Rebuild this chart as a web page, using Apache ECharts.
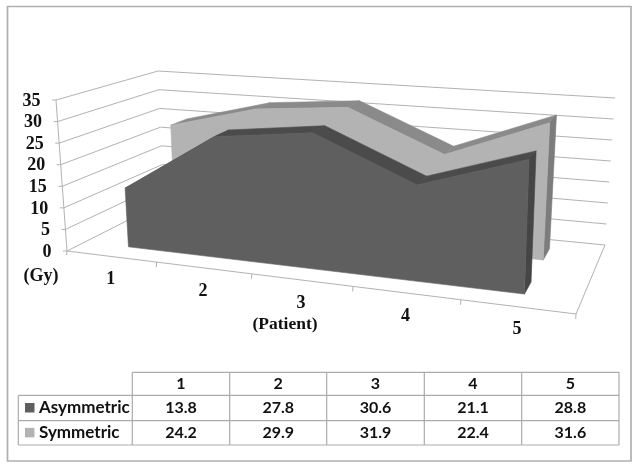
<!DOCTYPE html>
<html><head><meta charset="utf-8">
<style>html,body{margin:0;padding:0;background:#fff}#c{width:641px;height:472px}</style>
<script src="https://cdn.jsdelivr.net/npm/echarts@6/dist/echarts.min.js"></script></head>
<body><div id="c"></div>
<script>
const categories = ['1','2','3','4','5'];
const asymmetric = [13.8,27.8,30.6,21.1,28.8];
const symmetric = [24.2,29.9,31.9,22.4,31.6];
const yTicks = [0,5,10,15,20,25,30,35];
const seriesNames = ['Asymmetric','Symmetric'];

const chart = echarts.init(document.getElementById('c'), null, {renderer:'canvas'});
const GRID = {left:0, top:0, width:100, height:100};
const SERIF = '"Liberation Serif"';
const LINE = '#b2b2b2';
const corners = {
  fl:[[67,251],[56,100]], bl:[[164,202],[158,71]],
  br:[[605,245],[615,98]], fr:[[576,314],[583,144]]
};
function persp(t){ const a=1.17; return t/(t+a*(1-t)); }
function mix(a,b,t){ return [a[0]+(b[0]-a[0])*t, a[1]+(b[1]-a[1])*t]; }
// project a point of the flat hidden grid into the drawn 3D box at depth z
function project(pt, z){
  const u = persp((pt[0]-GRID.left)/GRID.width);
  const v = 1-(pt[1]-GRID.top)/GRID.height;
  const f = mix(mix(corners.fl[0],corners.fr[0],u), mix(corners.fl[1],corners.fr[1],u), v);
  const b = mix(mix(corners.bl[0],corners.br[0],u), mix(corners.bl[1],corners.br[1],u), v);
  return mix(f,b,z);
}
function poly(points, color){
  return {type:'polygon', shape:{points}, style:{fill:color, stroke:color, lineWidth:0.6}};
}
function areaItem(values, zFront, zBack, cols){
  return function(params, api){
    const i = api.value(0), v = api.value(1), nv = api.value(2);
    const last = categories.length-1;
    const P = (c,val,z)=>project(api.coord([c,val]),z);
    const kids = [];
    if(i < last){
      kids.push(poly([P(i,v,zFront),P(i+1,nv,zFront),P(i+1,nv,zBack),P(i,v,zBack)], cols.top));
    } else {
      kids.push(poly([P(i,0,zFront),P(i,v,zFront),P(i,v,zBack),P(i,0,zBack)], cols.side));
      const outline = [P(0,0,zFront)];
      values.forEach((val,c)=>outline.push(P(c,val,zFront)));
      outline.push(P(last,0,zFront));
      kids.push(poly(outline, cols.front));
    }
    return {type:'group', children:kids};
  };
}
function wallItem(params, api){
  const val = api.value(0), kids = [];
  const yPix = api.coord([0,val])[1];
  const L = GRID.left, R = GRID.left+GRID.width;
  const a = project([L,yPix],0), b = project([L,yPix],1), c = project([R,yPix],1);
  kids.push({type:'polyline', shape:{points:[[a[0]-4,a[1]],a,b,c]}, style:{fill:null, stroke:LINE, lineWidth:1}});
  kids.push({type:'text', style:{text:String(val), x:a[0]-15.5, y:a[1]+1, align:'right', verticalAlign:'middle',
    font:'bold 18px '+SERIF, fill:'#111'}});
  return {type:'group', children:kids};
}
function floorItem(params, api){
  const i = api.value(0), kids = [];
  const yPix = api.coord([0,0])[1];
  const halfBand = api.size([1,0])[0]/2;
  const cx = api.coord([i,0])[0];
  const e = project([cx+halfBand,yPix],0);
  const a = project([cx-halfBand,yPix],0);
  kids.push({type:'line', shape:{x1:a[0],y1:a[1],x2:e[0],y2:e[1]}, style:{stroke:LINE,lineWidth:1}});
  kids.push({type:'line', shape:{x1:e[0],y1:e[1],x2:e[0]-0.3,y2:e[1]+5}, style:{stroke:LINE,lineWidth:1}});
  const m = project([cx,yPix],0);
  kids.push({type:'text', style:{text:categories[i], x:m[0]-0.5, y:m[1]+23, align:'center', verticalAlign:'middle',
    font:'bold 18px '+SERIF, fill:'#111'}});
  if(i===0){
    const tt=project([cx-halfBand,api.coord([0,35])[1]],0);
    kids.push({type:'line', shape:{x1:a[0],y1:a[1],x2:a[0]-0.3,y2:a[1]+4}, style:{stroke:LINE,lineWidth:1}});
    kids.push({type:'line', shape:{x1:a[0],y1:a[1],x2:tt[0],y2:tt[1]}, style:{stroke:LINE,lineWidth:1}});
  }
  if(i===categories.length-1){
    const back=project([cx+halfBand,yPix],1);
    kids.push({type:'line', shape:{x1:e[0],y1:e[1],x2:back[0],y2:back[1]}, style:{stroke:LINE,lineWidth:1}});
  }
  return {type:'group', children:kids};
}

// data table (drawn with graphic elements)
const colX = [132.3,229.7,326.7,424.3,521.7,619];
const rowY = [372.3,395.3,420.7,445];
const tableLeft = 18.3;
const TFONT = 'bold 16px Lato';
const NFONT = 'bold 17px Lato';
const TLINE = '#ababab';
const g = [];
g.push({type:'rect', shape:{x:7.5,y:6.5,width:623.5,height:454.5}, style:{fill:null,stroke:'#b0b0b0',lineWidth:1.7}, silent:true});
function hl(x1,x2,y){ g.push({type:'line',shape:{x1,x2,y1:y,y2:y},style:{stroke:TLINE,lineWidth:1.2}}); }
function vl(x,y1,y2){ g.push({type:'line',shape:{x1:x,x2:x,y1,y2},style:{stroke:TLINE,lineWidth:1.2}}); }
hl(colX[0],colX[5],rowY[0]);
rowY.slice(1).forEach(y=>hl(tableLeft,colX[5],y));
colX.forEach(x=>vl(x,rowY[0],rowY[3]));
vl(tableLeft,rowY[1],rowY[3]);
function cell(text,x,y,align,font){ g.push({type:'text',style:{text,x,y,align:align||'center',verticalAlign:'middle',font:font||TFONT,fill:'#111'}}); }
categories.forEach((c,i)=>{
  const cx=(colX[i]+colX[i+1])/2;
  cell(c,cx,(rowY[0]+rowY[1])/2);
  cell(asymmetric[i].toFixed(1),cx,(rowY[1]+rowY[2])/2);
  cell(symmetric[i].toFixed(1),cx,(rowY[2]+rowY[3])/2);
});
const swatch=['#5f5f5f','#b3b3b3'];
seriesNames.forEach((n,r)=>{
  const cy=(rowY[r+1]+rowY[r+2])/2;
  g.push({type:'rect',shape:{x:25,y:cy-5,width:9.5,height:9.5},style:{fill:swatch[r]}});
  cell(n,39,cy,'left',NFONT);
});
g.push({type:'text',style:{text:'(Gy)',x:41,y:276,align:'center',verticalAlign:'middle',font:'bold 18px '+SERIF,fill:'#111'}});
g.push({type:'text',style:{text:'(Patient)',x:285,y:324,align:'center',verticalAlign:'middle',font:'bold 17.5px '+SERIF,fill:'#111'}});

const withNext = arr => arr.map((v,i)=>[i,v,i<arr.length-1?arr[i+1]:v]);
chart.setOption({
  animation:false,
  backgroundColor:'#fff',
  graphic:g,
  grid:{left:GRID.left,top:GRID.top,width:GRID.width,height:GRID.height,show:false},
  xAxis:{type:'category',data:categories,show:false},
  yAxis:{type:'value',min:0,max:35,interval:5,show:false},
  series:[
    {type:'custom',name:'walls',z:1,clip:false,silent:true,data:yTicks.map(v=>[v]),renderItem:wallItem,encode:{x:-1,y:0}},
    {type:'custom',name:'floor',z:1,clip:false,silent:true,data:categories.map((c,i)=>[i]),renderItem:floorItem,encode:{x:0,y:-1}},
    {type:'custom',name:'Symmetric',z:2,clip:false,silent:true,data:withNext(symmetric),
      renderItem:areaItem(symmetric,0.70,0.87,{front:'#b3b3b3',top:'#8a8a8a',side:'#7c7c7c'}),encode:{x:0,y:1}},
    {type:'custom',name:'Asymmetric',z:3,clip:false,silent:true,data:withNext(asymmetric),
      renderItem:areaItem(asymmetric,0.19,0.37,{front:'#5f5f5f',top:'#4b4b4b',side:'#454545'}),encode:{x:0,y:1}}
  ]
});
</script></body></html>
